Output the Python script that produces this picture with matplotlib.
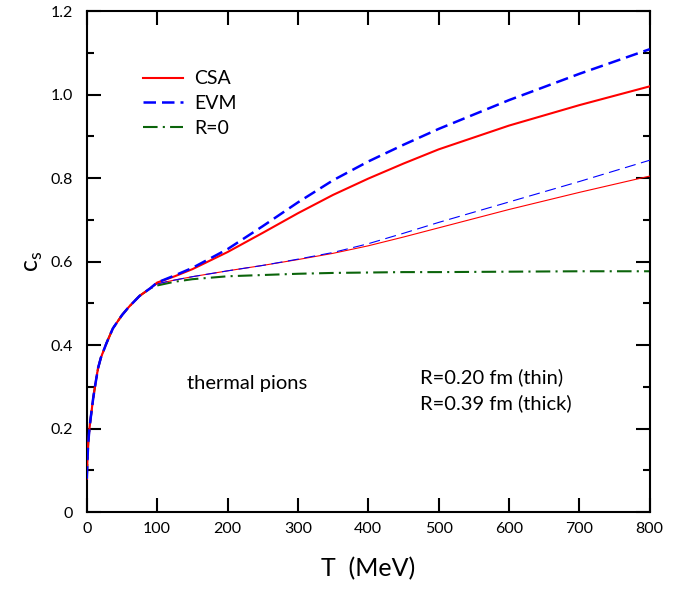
import matplotlib
matplotlib.use('Agg')
import matplotlib.pyplot as plt
from matplotlib.ticker import MultipleLocator, FuncFormatter

plt.rcParams['font.family'] = ['Lato', 'DejaVu Sans']

# speed of sound of a thermal pion gas, low-T part is the same for all curves
t_low = [0, 1, 2, 4, 6, 9, 12, 16, 20, 28, 37, 50, 60, 75, 90]
cs_low = [0.08, 0.13, 0.165, 0.205, 0.232, 0.272, 0.305, 0.345, 0.37, 0.405,
          0.440, 0.472, 0.492, 0.518, 0.536]

t_high = [100, 125, 150, 200, 250, 300, 350, 400, 450, 500, 600, 700, 800]

cs_r0 = [0.543, 0.552, 0.558, 0.565, 0.568, 0.571, 0.573, 0.574, 0.575,
         0.575, 0.576, 0.577, 0.577]
cs_csa_thin = [0.547, 0.556, 0.564, 0.578, 0.591, 0.605, 0.620, 0.638,
               0.659, 0.681, 0.725, 0.766, 0.805]
cs_evm_thin = [0.547, 0.556, 0.564, 0.578, 0.591, 0.606, 0.622, 0.643,
               0.668, 0.694, 0.743, 0.792, 0.843]
cs_csa_thick = [0.550, 0.565, 0.582, 0.623, 0.669, 0.716, 0.760, 0.799,
                0.835, 0.869, 0.926, 0.975, 1.020]
cs_evm_thick = [0.550, 0.567, 0.585, 0.630, 0.685, 0.742, 0.795, 0.840,
                0.880, 0.918, 0.987, 1.050, 1.109]


def full(cs):
    return t_low + t_high, cs_low + cs


def fmt_y(v, pos):
    return '0' if abs(v) < 1e-9 else '%.1f' % v


if __name__ == '__main__':
    fig = plt.figure(figsize=(6.89, 5.90), dpi=100)
    ax = fig.add_axes([0.126, 0.132, 0.817, 0.849])

    green = '#0b640b'
    ax.plot(*full(cs_r0), color=green, lw=1.5, dashes=(7, 2.5, 1, 2.5), label='R=0', zorder=2)
    ax.plot(*full(cs_csa_thin), color='red', lw=0.8, zorder=3)
    ax.plot(*full(cs_evm_thin), color='blue', lw=0.8, dashes=(10, 5), zorder=4)
    ax.plot(*full(cs_csa_thick), color='red', lw=1.5, label='CSA', zorder=5)
    ax.plot(*full(cs_evm_thick), color='blue', lw=1.8, dashes=(5, 2.4), label='EVM', zorder=6)

    ax.set_xlim(0, 800)
    ax.set_ylim(0, 1.2)
    ax.xaxis.set_major_locator(MultipleLocator(100))
    ax.yaxis.set_major_locator(MultipleLocator(0.2))
    ax.yaxis.set_minor_locator(MultipleLocator(0.1))
    ax.yaxis.set_major_formatter(FuncFormatter(fmt_y))

    ax.tick_params(which='both', direction='in', top=True, right=True, width=1.5)
    ax.tick_params(which='major', length=10, labelsize=11.5)
    ax.tick_params(which='minor', length=5)
    ax.tick_params(axis='y', pad=10)
    ax.tick_params(axis='x', pad=7)
    for s in ax.spines.values():
        s.set_linewidth(1.5)

    ax.set_xlabel('T  (MeV)', fontsize=18, labelpad=15)
    ax.set_ylabel('c$_\\mathregular{s}$', fontsize=18, labelpad=4)

    handles, labels = ax.get_legend_handles_labels()
    order = [1, 2, 0]
    ax.legend([handles[i] for i in order], [labels[i] for i in order],
              loc='upper left', bbox_to_anchor=(0.0995, 0.882), frameon=False,
              fontsize=14, handlelength=2.05, handletextpad=0.6,
              labelspacing=0.41, borderpad=0, borderaxespad=0)

    ax.text(143, 0.309, 'thermal pions', fontsize=14.5, va='center', ha='left')
    ax.text(473, 0.323, 'R=0.20 fm (thin)', fontsize=14.5, va='center', ha='left')
    ax.text(473, 0.261, 'R=0.39 fm (thick)', fontsize=14.5, va='center', ha='left')

    plt.savefig('out.png', dpi=100)
